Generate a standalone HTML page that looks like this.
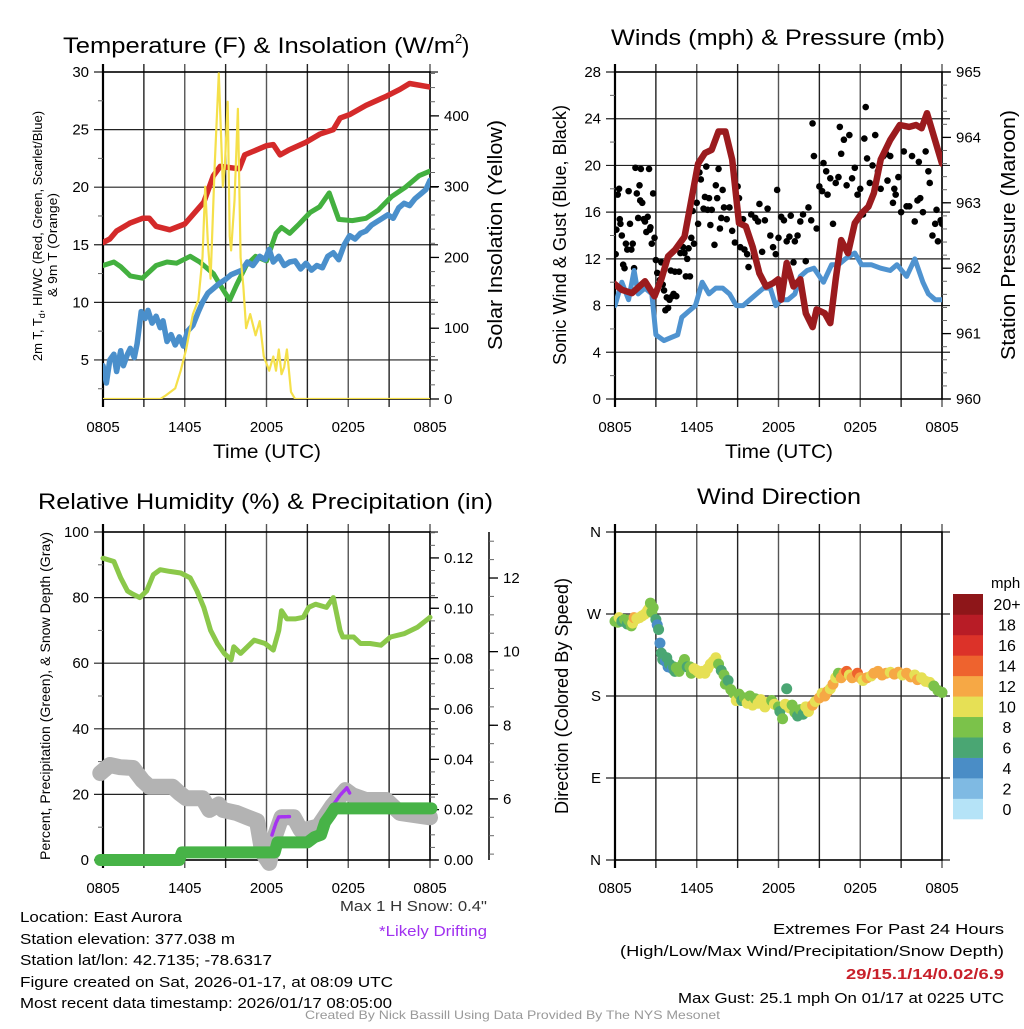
<!DOCTYPE html>
<html><head><meta charset="utf-8"><style>
body{margin:0;background:#fff;}
svg text{font-family:"Liberation Sans",Arial,sans-serif;}
</style></head><body>
<svg id="c" width="1024" height="1024" viewBox="0 0 1024 1024" xmlns="http://www.w3.org/2000/svg">
<rect width="1024" height="1024" fill="#fff"/>
<g id="root"></g>
<g id="txt" font-size="15" fill="#000">
<text x="63" y="53" font-size="22" textLength="392" lengthAdjust="spacingAndGlyphs">Temperature (F) &amp; Insolation (W/m</text>
<text x="455" y="43" font-size="13">2</text>
<text x="462" y="53" font-size="22">)</text>
<text x="611" y="45" font-size="22" textLength="334" lengthAdjust="spacingAndGlyphs">Winds (mph) &amp; Pressure (mb)</text>
<text x="38" y="509" font-size="22" textLength="455" lengthAdjust="spacingAndGlyphs">Relative Humidity (%) &amp; Precipitation (in)</text>
<text x="697" y="504" font-size="22" textLength="164" lengthAdjust="spacingAndGlyphs">Wind Direction</text>
<text x="213" y="458" font-size="19" textLength="108" lengthAdjust="spacingAndGlyphs">Time (UTC)</text>
<text x="725" y="458" font-size="19" textLength="108" lengthAdjust="spacingAndGlyphs">Time (UTC)</text>
<text transform="translate(42,236) rotate(-90)" text-anchor="middle" font-size="13">2m T, T<tspan font-size="9" dy="3">d</tspan><tspan dy="-3">, HI/WC (Red, Green, Scarlet/Blue)</tspan></text>
<text transform="translate(57,245) rotate(-90)" text-anchor="middle" font-size="13" textLength="104" lengthAdjust="spacingAndGlyphs">&amp; 9m T (Orange)</text>
<text transform="translate(502,235) rotate(-90)" text-anchor="middle" font-size="20" textLength="230" lengthAdjust="spacingAndGlyphs">Solar Insolation (Yellow)</text>
<text transform="translate(566,235) rotate(-90)" text-anchor="middle" font-size="18" textLength="260" lengthAdjust="spacingAndGlyphs">Sonic Wind &amp; Gust (Blue, Black)</text>
<text transform="translate(1015,235) rotate(-90)" text-anchor="middle" font-size="20" textLength="250" lengthAdjust="spacingAndGlyphs">Station Pressure (Maroon)</text>
<text transform="translate(50,696) rotate(-90)" text-anchor="middle" font-size="13.5" textLength="328" lengthAdjust="spacingAndGlyphs">Percent, Precipitation (Green), &amp; Snow Depth (Gray)</text>
<text transform="translate(568,696) rotate(-90)" text-anchor="middle" font-size="18" textLength="236" lengthAdjust="spacingAndGlyphs">Direction (Colored By Speed)</text>
<text x="991" y="588" font-size="15">mph</text>
<text x="340" y="911" textLength="147" lengthAdjust="spacingAndGlyphs" fill="#333">Max 1 H Snow: 0.4"</text>
<text x="379" y="936" textLength="108" lengthAdjust="spacingAndGlyphs" fill="#a030f0">*Likely Drifting</text>
<text x="20" y="922" textLength="162" lengthAdjust="spacingAndGlyphs">Location: East Aurora</text>
<text x="20" y="944" textLength="215" lengthAdjust="spacingAndGlyphs">Station elevation: 377.038 m</text>
<text x="20" y="965" textLength="252" lengthAdjust="spacingAndGlyphs">Station lat/lon: 42.7135; -78.6317</text>
<text x="20" y="987" textLength="373" lengthAdjust="spacingAndGlyphs">Figure created on Sat, 2026-01-17, at 08:09 UTC</text>
<text x="20" y="1008" textLength="372" lengthAdjust="spacingAndGlyphs">Most recent data timestamp: 2026/01/17 08:05:00</text>
<text x="773" y="934" textLength="231" lengthAdjust="spacingAndGlyphs">Extremes For Past 24 Hours</text>
<text x="620" y="956" textLength="384" lengthAdjust="spacingAndGlyphs">(High/Low/Max Wind/Precipitation/Snow Depth)</text>
<text x="846" y="979" font-weight="bold" fill="#c8202a" textLength="158" lengthAdjust="spacingAndGlyphs">29/15.1/14/0.02/6.9</text>
<text x="678" y="1003" textLength="326" lengthAdjust="spacingAndGlyphs">Max Gust: 25.1 mph On 01/17 at 0225 UTC</text>
<text x="305" y="1019" font-size="12" fill="#999" textLength="415" lengthAdjust="spacingAndGlyphs">Created By Nick Bassill Using Data Provided By The NYS Mesonet</text>
</g>
</svg>
<script>
// ---------- DATA ----------
var xTickLabels = ["0805","1405","2005","0205","0805"];
var tH = [0,0.5,1,2,2.9,3.4,3.9,4.9,6,7.4,8.1,8.6,10,10.4,12,12.5,13,13.6,14.9,15.9,16.9,17.4,18.1,19.3,20.8,21.8,22.5,24];
var tV = [15.2,15.5,16.2,16.9,17.3,17.3,16.6,16.3,16.8,18.7,21,21.8,21.6,22.8,23.6,23.7,22.8,23.2,23.9,24.6,25,26,26.3,27.1,27.9,28.5,29,28.7];
var tdH = [0,0.8,1.3,2,2.9,3.9,4.7,5.4,6.4,7.1,8.1,8.6,9.3,9.8,10.5,11.2,12,12.7,13.1,13.7,14.4,15.2,15.9,16.6,17.3,18.3,19.3,20.2,21.2,22.2,23.2,24];
var tdV = [13.2,13.5,13.1,12.3,12.1,13.2,13.5,13.4,14.0,13.5,12.5,11.5,10.2,11.5,13.2,14.0,13.6,16.0,16.5,16.0,16.8,17.8,18.3,19.5,17.2,17.1,17.3,18.0,19.2,20.0,21.0,21.4];
var wcH = [0,0.25,0.5,0.8,1.0,1.3,1.5,1.8,2.0,2.3,2.5,2.8,3.1,3.3,3.6,3.9,4.2,4.4,4.7,5.0,5.3,5.6,5.9,6.2,6.6,7.0,7.3,7.7,8.1,8.5,9.0,9.4,9.8,10.2,10.6,11.0,11.5,11.9,12.2,12.5,12.9,13.3,13.7,14.1,14.5,14.9,15.3,15.7,16.1,16.5,16.9,17.3,17.7,18.1,18.5,18.9,19.3,19.7,20.1,20.5,20.9,21.3,21.7,22.1,22.5,22.9,23.3,23.7,24];
var wcV = [4.5,3.0,5.0,5.5,4.0,5.8,4.5,5.5,6.0,5.2,6.4,9.2,8.6,9.3,8.2,8.8,7.8,8.4,6.6,7.2,6.3,7.0,6.2,7.5,8.0,9.2,10.0,10.8,11.2,11.6,12.0,12.4,12.6,12.8,13.5,13.2,14.0,13.7,14.6,13.5,14.0,13.2,13.5,13.6,12.9,13.4,12.8,13.2,13.0,14.0,14.3,13.7,15.0,15.8,15.5,16.0,16.2,16.7,17.0,17.3,17.6,17.3,18.2,18.6,18.4,19.0,19.4,19.8,20.6];
var solH = [0,4.2,4.6,5.3,5.7,6.1,6.6,7.0,7.3,7.5,7.7,7.9,8.2,8.5,8.8,8.95,9.15,9.3,9.4,9.65,9.9,10.1,10.3,10.5,10.8,11.2,11.5,11.8,12.2,12.5,12.7,12.9,13.1,13.3,13.5,13.8,14.1,14.6,24];
var solV = [0,0,5,15,40,70,120,140,200,300,220,170,330,460,300,330,420,230,210,280,410,200,160,100,120,90,110,60,40,60,40,70,35,45,70,10,0,0,0];
var wsH = [0,0.5,1.0,1.4,1.7,2.2,2.7,3.0,3.6,4.2,4.6,4.9,5.4,5.9,6.4,6.9,7.4,7.9,8.4,8.9,9.4,9.9,10.4,10.9,11.4,11.8,12.2,12.7,13.2,13.6,14.1,14.6,15.3,15.9,16.4,16.9,17.6,18.1,18.8,19.5,20.2,20.7,21.4,22.0,22.6,23.0,23.5,24];
var wsV = [8,10,8.5,11,9,9.5,9,5.5,5,5.3,5.5,7,7.5,8,10,9,9.5,9.5,9,8,8,8.5,9,9.5,9.5,8,8.5,8.5,9,10.5,11,11.2,10,11.5,11.5,12,12.5,11.5,11.5,11.2,11,11.5,10.5,12,10,9,8.5,8.5];
var prH = [-0.1,0.5,1.25,2.2,2.9,3.4,3.9,4.4,5.1,5.6,6.1,6.6,7.1,7.6,8.1,8.6,9.1,9.6,10.1,10.6,11.1,11.6,11.98,12.2,12.6,13.1,13.6,14.0,14.5,14.8,15.4,15.8,16.2,16.6,17.1,17.6,18.1,18.6,19.0,19.5,20.2,20.9,21.6,22.1,22.5,22.9,24];
var prV = [961.77,961.67,961.62,961.8,961.57,961.83,962.18,962.28,962.48,963.04,963.6,963.76,963.81,964.09,964.09,963.66,962.69,962.64,962.33,961.92,961.72,961.77,961.83,961.52,962.08,961.72,961.83,961.31,961.1,961.37,961.31,961.16,961.83,962.43,962.23,962.69,962.84,962.94,963.15,963.66,963.96,964.19,964.16,964.19,964.14,964.37,963.6];
var gustH = [0.05,0.1,0.2,0.3,0.35,0.4,0.5,0.6,0.7,0.8,0.9,1.0,1.1,1.2,1.3,1.4,1.5,1.6,1.7,1.8,1.85,1.9,2.0,2.1,2.2,2.3,2.4,2.5,2.55,2.6,2.7,2.8,2.9,3.0,3.1,3.3,3.4,3.5,3.6,3.7,3.8,3.9,4.0,4.1,4.2,4.3,4.4,4.5,4.7,4.8,5.0,5.1,5.2,5.3,5.4,5.5,5.6,5.7,5.8,6.0,6.1,6.2,6.3,6.5,6.6,6.7,6.8,6.9,7.0,7.1,7.3,7.4,7.5,7.6,7.7,7.8,7.9,8.0,8.2,8.4,8.6,8.8,9.0,9.1,9.2,9.4,9.5,9.7,9.8,10.0,10.2,10.3,10.5,10.6,10.8,11.0,11.2,11.4,11.6,11.8,11.9,12.0,12.2,12.4,12.6,12.8,12.9,13.1,13.2,13.4,13.6,13.8,14.0,14.2,14.4,14.5,14.6,14.8,15.0,15.2,15.3,15.5,15.6,15.8,16.0,16.2,16.4,16.5,16.6,16.8,17.0,17.2,17.4,17.6,17.8,18.0,18.2,18.3,18.4,18.5,18.7,18.9,19.1,19.3,19.5,19.7,19.9,20.0,20.2,20.4,20.5,20.6,20.8,21.0,21.2,21.4,21.6,21.8,22.0,22.2,22.3,22.4,22.6,22.8,23.0,23.1,23.3,23.5,23.6,23.7,23.9,24.0];
var gustV = [12.4,14.5,17.5,18,15.4,15,14,11.5,11.2,13.3,12.8,17.8,15,12.8,13.3,11.2,19.8,17.6,15.5,18.3,17,19.7,16.8,15.4,15.2,14.3,15.6,19.7,14.5,14.7,13.3,17.6,13.8,11.9,10.8,10.2,11.7,9.8,9.3,7.6,8.7,7.8,8.5,11,8.8,9,10.9,8.8,10.9,12.5,13,12.5,10.5,12,12.9,10.5,13.8,16.1,13.3,16.8,15,19.4,18.8,16.3,17.3,19.9,16.2,17.2,14.9,16.2,13.2,18.3,17.2,19.7,14.6,15.5,17.9,16.4,15.4,16.4,14.4,13.4,18.2,17.2,13,15.4,12.8,12.4,11.3,15.8,12.2,15.5,15.2,16.7,12.6,15.3,16.3,14,13,12.4,17.9,13.8,15.6,15.3,13.5,13.9,15.7,11.7,13.5,14,15.2,15.8,11.8,16.4,15.3,23.6,20.8,14.6,18.2,17.8,20.2,19.5,17.5,18.9,15,18.5,19,23.3,21,22.2,18.3,22.6,18.9,19.8,17.5,18,15.8,22.3,25,20.6,18.5,20,22.6,19.5,18,20.8,21,18.7,20.8,16.8,18,17.5,19,16,21.2,16.5,16.5,20.8,15.2,17,20.3,17.2,16,21.2,19.5,18.5,14,15,16.2,13.5,15.3,15];
var rhH = [0,0.8,1.3,1.8,2.2,2.7,3.2,3.7,4.2,4.9,5.7,6.4,6.9,7.4,7.9,8.4,8.9,9.4,9.6,10.1,10.6,11.1,11.9,12.5,12.9,13.1,13.5,14.1,14.7,15.1,15.6,16.4,16.9,17.4,17.6,18.4,18.9,19.6,20.4,21.1,22.1,23.1,24];
var rhV = [92,91,86,82,81,80,82,87,88.5,88,87.5,86,82,77,70,66,63,61,65,63,65,67,66,64,70,76,73.5,73.5,74,77,78,77,80,70,68,68,66,66,65.5,68,69,71,74];
var snH = [-0.2,0.5,1.25,2.2,2.9,3.4,5.1,5.6,6.1,7.3,7.8,8.5,8.8,9.8,10.6,11.3,11.7,12.2,12.6,13.1,14.0,14.5,14.8,15.8,16.8,17.8,18.3,19.3,20.8,21.8,24];
var snV = [6.7,6.92,6.86,6.84,6.5,6.33,6.33,6.16,6.02,6.02,5.7,5.85,5.7,5.62,5.5,5.4,4.54,4.26,4.97,5.5,5.5,5.16,5.16,5.25,5.8,6.24,6.1,5.97,5.97,5.62,5.5];
var drift1H = [12.4,12.7,12.9,13.7];
var drift1V = [5.02,5.35,5.51,5.52];
var drift2H = [17.0,17.4,17.9,18.1];
var drift2V = [5.89,6.1,6.3,6.16];
var pcH = [-0.2,5.6,5.8,12.6,12.8,15.0,15.5,16.0,16.3,16.7,17.0,24.1];
var pcV = [0,0,0.003,0.003,0.007,0.007,0.009,0.010,0.015,0.018,0.0205,0.0205];
var wdH = [0,0.2,0.3,0.5,0.7,0.9,1.0,1.2,1.3,1.4,1.6,1.8,2.0,2.2,2.4,2.5,2.6,2.7,2.8,3.0,3.1,3.2,3.3,3.4,3.5,3.6,3.7,3.8,3.9,4.0,4.2,4.3,4.4,4.5,4.7,4.8,5.0,5.1,5.3,5.5,5.6,5.8,6.0,6.2,6.4,6.6,6.8,7.0,7.2,7.4,7.6,7.8,8.0,8.1,8.3,8.5,8.7,8.9,9.1,9.3,9.5,9.7,9.9,10.1,10.3,10.5,10.7,11.0,11.2,11.5,11.7,12.0,12.1,12.3,12.5,12.6,12.8,13.0,13.2,13.4,13.6,13.8,14.0,14.2,14.5,14.7,15.0,15.2,15.4,15.6,15.8,16.0,16.2,16.4,16.6,16.8,17.0,17.2,17.4,17.6,17.8,18.0,18.2,18.5,18.8,19.0,19.3,19.6,19.9,20.2,20.5,20.8,21.1,21.4,21.7,22.0,22.2,22.5,22.8,23.1,23.4,23.7,24];
var wdDeg = [262,261,266,262,264,259,263,257,260,266,265,266,268,270,274,276,282,272,277,264,258,253,238,227,220,223,218,222,212,215,210,212,207,211,207,212,216,220,212,212,205,210,208,205,207,205,210,215,218,222,215,208,203,193,197,187,183,175,182,175,178,172,180,170,177,172,176,168,173,175,171,168,163,155,171,188,167,170,162,158,165,160,168,163,170,174,178,183,180,185,188,193,200,205,200,205,207,203,200,202,205,200,197,200,202,205,207,203,205,206,204,206,203,205,201,203,198,200,196,195,191,186,184];
var wdSpd = [8,7,10,6,8,6,7,8,10,12,10,10,10,9,10,10,8,8,8,6,4,6,4,6,6,6,4,6,4,6,4,6,6,8,8,8,8,8,6,8,8,10,10,10,10,10,10,10,10,10,8,6,8,8,6,8,8,10,8,6,8,10,8,10,8,10,10,10,10,8,10,8,6,8,10,6,10,8,8,6,8,6,10,10,12,10,12,10,12,12,10,12,10,8,12,12,14,10,12,12,14,12,10,12,10,12,12,12,12,10,12,12,10,12,12,10,12,10,10,10,8,8,8];
var dirTickLabels = ["N","E","S","W","N"];
var cbLabels = ["0","2","4","6","8","10","12","14","16","18","20+"];
var cbColors = ["#b5e3f7","#7fbae3","#4a8dc6","#4aa673","#7bc24a","#e6e055","#f6a845","#ee632e","#dc3229","#b81c26","#8e1619"];

// ---------- DRAWING ----------
var NS="http://www.w3.org/2000/svg";
var root=document.getElementById('root');
function el(tag,attrs,parent){var e=document.createElementNS(NS,tag);for(var k in attrs)e.setAttribute(k,attrs[k]);(parent||root).appendChild(e);return e;}
function lin(d0,d1,r0,r1){return function(v){return r0+(v-d0)*(r1-r0)/(d1-d0);};}
function pathD(xs,ys,fx,fy){var s="";for(var i=0;i<xs.length;i++)s+=(i?"L":"M")+fx(xs[i]).toFixed(1)+","+fy(ys[i]).toFixed(1);return s;}
function txt(x,y,s,anchor,size,parent){var t=el('text',{x:x,y:y,'text-anchor':anchor,'font-size':size||15},parent);t.textContent=s;return t;}

function frame(g,L,R,T,B,leftTicks,fy,leftLabels,hGridVals){
  var fx=lin(0,24,L,R);
  for(var h=0;h<=24;h+=3){var ln=el('line',{x1:fx(h),x2:fx(h),y1:T-8,y2:B+8,stroke:(h%6==0)?'#555':'#222','stroke-width':1.4},g);
    }
  for(var i=0;i<hGridVals.length;i++){var y=fy(hGridVals[i]);var l2=el('line',{x1:L-9,x2:R+8,y1:y,y2:y,stroke:'#222','stroke-width':1.2},g);
    
    if(leftLabels){var t=txt(L-14,y+5,leftLabels[i],'end',15,g);}}
  var fr=el('rect',{x:L,y:T,width:R-L,height:B-T,fill:'none',stroke:'#000','stroke-width':1.5},g);
  
  el('line',{x1:L,x2:L,y1:T-8,y2:B+8,stroke:'#000','stroke-width':2.2},g);
  for(var j=0;j<xTickLabels.length;j++){var t2=txt(fx(j*6),B+33,xTickLabels[j],'middle',15,g);
    }
  return fx;
}
function rightAxis(g,R,fy,vals,labels,minorStep,lo,hi,x){
  x=x||R;
  for(var v=lo;v<=hi+1e-9;v+=minorStep){var y=fy(v);el('line',{x1:x,x2:x+5,y1:y,y2:y,stroke:'#666','stroke-width':1},g);}
  for(var i=0;i<vals.length;i++){var y2=fy(vals[i]);el('line',{x1:x,x2:x+9,y1:y2,y2:y2,stroke:'#000','stroke-width':1.3},g);
    var t=txt(x+14,y2+5,labels[i],'start',15,g);}
}
function leftMinor(g,L,fy,lo,hi,step){for(var v=lo;v<=hi+1e-9;v+=step){var y=fy(v);el('line',{x1:L-5,x2:L,y1:y,y2:y,stroke:'#666','stroke-width':1},g);}}
function line(g,xs,ys,fx,fy,color,w,name){var p=el('path',{d:pathD(xs,ys,fx,fy),fill:'none',stroke:color,'stroke-width':w,'stroke-linejoin':'round','stroke-linecap':'round'},g);
  return p;}

(function(){
  var g=el('g',{});
  var L=103,R=430,T=72,B=399;
  var fy=lin(30,1.61,T,B), fs=lin(0,462,B,T);
  var clip=el('clipPath',{id:'cp1'},g);el('rect',{x:L,y:T,width:R-L,height:B-T},clip);
  var fx=frame(g,L,R,T,B,null,fy,["5","10","15","20","25","30"],[5,10,15,20,25,30]);
  leftMinor(g,L,fy,2.5,27.5,5);
  rightAxis(g,R,fs,[0,100,200,300,400],["0","100","200","300","400"],20,0,460);
  var d=el('g',{'clip-path':'url(#cp1)'},g);
  line(d,tdH,tdV,fx,fy,'#43b03f',5,'dewpoint-line');
  line(d,tH,tV,fx,fy,'#d42a2a',5.5,'temperature-line');
  line(d,wcH,wcV,fx,fy,'#4a8fcb',5.5,'wind-chill-line');
  line(d,solH,solV,fx,fs,'#f5e04a',2.2,'insolation-line');
})();

(function(){
  var g=el('g',{});
  var L=615,R=942,T=72,B=399;
  var fy=lin(0,28,B,T), fp=lin(960,965,B,T);
  var clip=el('clipPath',{id:'cp2'},g);el('rect',{x:L,y:T,width:R-L,height:B-T},clip);
  var fx=frame(g,L,R,T,B,null,fy,["0","4","8","12","16","20","24","28"],[0,4,8,12,16,20,24,28]);
  leftMinor(g,L,fy,2,26,4);
  rightAxis(g,R,fp,[960,961,962,963,964,965],["960","961","962","963","964","965"],0.2,960,965);
  var d=el('g',{'clip-path':'url(#cp2)'},g);
  for(var i=0;i<gustH.length;i++){var c=el('circle',{cx:fx(gustH[i]),cy:fy(gustV[i]),r:3.3,fill:'#000'},d);
    }
  line(d,wsH,wsV,fx,fy,'#4f93d0',5,'sonic-wind-line');
  line(d,prH,prV,fx,fp,'#9b1b1e',6.5,'pressure-line');
})();

(function(){
  var g=el('g',{});
  var L=103,R=430,T=532,B=860;
  var fy=lin(0,100,B,T), fpc=lin(0,0.1303,B,T), fsn=lin(4.34,13.25,B,T);
  var fx=frame(g,L,R,T,B,null,fy,["0","20","40","60","80","100"],[0,20,40,60,80,100]);
  leftMinor(g,L,fy,10,90,20);
  rightAxis(g,R,fpc,[0,0.02,0.04,0.06,0.08,0.10,0.12],["0.00","0.02","0.04","0.06","0.08","0.10","0.12"],0.005,0,0.13);
  el('line',{x1:489,x2:489,y1:T,y2:B,stroke:'#000','stroke-width':1.5},g);
  rightAxis(g,489,fsn,[6,8,10,12],["6","8","10","12"],0.5,4.5,13,489);
  line(g,rhH,rhV,fx,fy,'#8bc84a',5,'humidity-line');
  line(g,snH,snV,fx,fsn,'#b3b3b3',16,'snow-depth-line');
  var dr1=line(g,drift1H,drift1V,fx,fsn,'#a632f0',3.5,'drifting-segment-1');dr1.setAttribute('stroke-dasharray','2 1.5');
  var dr2=line(g,drift2H,drift2V,fx,fsn,'#a632f0',3.5,'drifting-segment-2');dr2.setAttribute('stroke-dasharray','2 1.5');
  line(g,pcH,pcV,fx,fpc,'#47b347',12,'precipitation-line');
})();

(function(){
  var g=el('g',{});
  var L=615,R=942,T=532,B=860;
  var fy=lin(0,360,B,T);
  var fx=frame(g,L,R,T,B,null,fy,dirTickLabels,[0,90,180,270,360]);
  function col(s){var k=Math.min(10,Math.floor(s/2+0.5));return cbColors[k];}
  for(var i=0;i<wdH.length;i++){var c=el('circle',{cx:fx(wdH[i]),cy:fy(wdDeg[i]),r:5.5,fill:col(wdSpd[i])},g);
    }
  var cb=el('g',{},g);
  var top=594,bot=819,h=(bot-top)/cbColors.length;
  for(var j=0;j<cbColors.length;j++){var y=bot-(j+1)*h;
    var r=el('rect',{x:953,y:y,width:30,height:h+0.3,fill:cbColors[j]},cb);
    
    var t=txt(1007,y+h/2+6,cbLabels[j],'middle',16,cb);}
})();
</script>
</body></html>
